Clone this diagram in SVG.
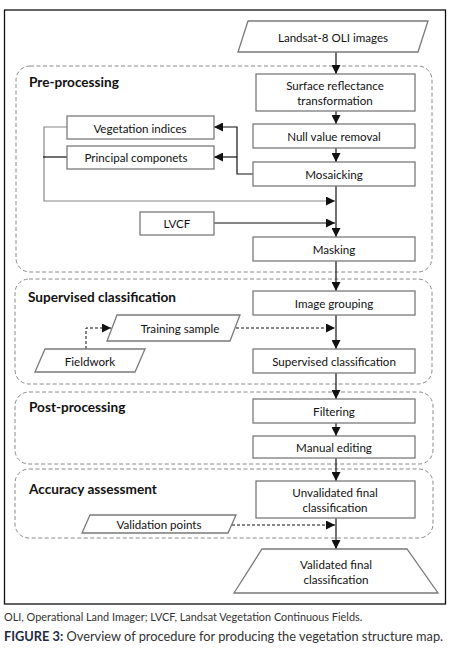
<svg xmlns="http://www.w3.org/2000/svg" width="453" height="650" viewBox="0 0 453 650">
<style>
text{font-family:Lato,"Liberation Sans",sans-serif;fill:#111}
.t{font-size:11.6px;text-anchor:middle;dominant-baseline:central}
.h{font-size:13.6px;font-weight:bold;dominant-baseline:central}
.box{fill:#fff;stroke:#7a7a7a;stroke-width:1.3}
.grp{fill:none;stroke:#8a8a8a;stroke-width:1;stroke-dasharray:4,2.5}
.c{fill:none;stroke:#111;stroke-width:1.2}
.g{fill:none;stroke:#888;stroke-width:1.2}
.d{fill:none;stroke:#111;stroke-width:1;stroke-dasharray:3,2}
.cap{font-size:10.9px;fill:#333}
.fig{font-size:12.8px;fill:#333}
</style>
<defs>
<marker id="a" markerUnits="userSpaceOnUse" markerWidth="9" markerHeight="9" viewBox="0 0 9 9" refX="9" refY="4.5" orient="auto">
<path d="M0,0L9,4.5L0,9Z" fill="#111"/>
</marker>
</defs>
<rect x="4.5" y="10" width="441" height="594" fill="#fff" stroke="#111" stroke-width="1.3"/>
<g id="groups">
<rect id="g-pre" class="grp" x="16" y="66" width="416" height="206" rx="14"/>
<rect id="g-sup" class="grp" x="15" y="279" width="417" height="105" rx="14"/>
<rect id="g-post" class="grp" x="15" y="392" width="418" height="72" rx="14"/>
<rect id="g-acc" class="grp" x="15" y="469" width="418" height="69" rx="14"/>
<text class="h" x="29" y="82">Pre-processing</text>
<text class="h" x="28" y="297">Supervised classification</text>
<text class="h" x="29" y="407">Post-processing</text>
<text class="h" x="29" y="489">Accuracy assessment</text>
</g>
<g id="connectors">
<path class="c" d="M336,52V74" marker-end="url(#a)"/>
<path class="c" d="M336,111V124" marker-end="url(#a)"/>
<path class="c" d="M336,148V162" marker-end="url(#a)"/>
<path class="c" d="M253,174H237V127H214" marker-end="url(#a)"/>
<path class="c" d="M237,157H214" marker-end="url(#a)"/>
<path class="g" d="M67,127H44V201H335" marker-end="url(#a)"/>
<path class="c" d="M67,157H43"/>
<path class="c" d="M336,186V237" marker-end="url(#a)"/>
<path class="c" d="M214,223H335" marker-end="url(#a)"/>
<path class="c" d="M336,261V291" marker-end="url(#a)"/>
<path class="c" d="M336,315V349" marker-end="url(#a)"/>
<path class="d" d="M236,328H335" marker-end="url(#a)"/>
<path class="d" d="M86,349V328H111" marker-end="url(#a)"/>
<path class="c" d="M336,373V399" marker-end="url(#a)"/>
<path class="c" d="M336,423V436" marker-end="url(#a)"/>
<path class="c" d="M336,458V481" marker-end="url(#a)"/>
<path class="d" d="M232,525H335" marker-end="url(#a)"/>
<path class="c" d="M336,518V549" marker-end="url(#a)"/>
</g>
<g id="n-landsat"><path class="box" d="M248,21H428L418,52H238Z"/><text class="t" x="333" y="37">Landsat-8 OLI images</text></g>
<g id="n-sr"><rect class="box" x="256" y="74" width="159" height="37"/><text class="t" x="335" y="85">Surface reflectance</text><text class="t" x="335" y="100">transformation</text></g>
<g id="n-null"><rect class="box" x="253" y="124" width="162" height="24"/><text class="t" x="334" y="136">Null value removal</text></g>
<g id="n-mosaic"><rect class="box" x="253" y="162" width="162" height="24"/><text class="t" x="334" y="174">Mosaicking</text></g>
<g id="n-vi"><rect class="box" x="67" y="116" width="147" height="23"/><text class="t" x="140" y="128">Vegetation indices</text></g>
<g id="n-pc"><rect class="box" x="67" y="146" width="147" height="23"/><text class="t" x="136" y="157">Principal componets</text></g>
<g id="n-lvcf"><rect class="box" x="140" y="212" width="74" height="23"/><text class="t" x="177" y="223">LVCF</text></g>
<g id="n-mask"><rect class="box" x="253" y="237" width="162" height="24"/><text class="t" x="334" y="249">Masking</text></g>
<g id="n-ig"><rect class="box" x="253" y="291" width="162" height="24"/><text class="t" x="334" y="303">Image grouping</text></g>
<g id="n-ts"><path class="box" d="M117,315H240L230,341H107Z"/><text class="t" x="180" y="328">Training sample</text></g>
<g id="n-fw"><path class="box" d="M45,349H145L135,372H35Z"/><text class="t" x="90" y="361">Fieldwork</text></g>
<g id="n-sc"><rect class="box" x="253" y="349" width="162" height="24"/><text class="t" x="334" y="361">Supervised classification</text></g>
<g id="n-filt"><rect class="box" x="253" y="399" width="162" height="24"/><text class="t" x="334" y="411">Filtering</text></g>
<g id="n-me"><rect class="box" x="253" y="436" width="162" height="22"/><text class="t" x="334" y="447">Manual editing</text></g>
<g id="n-uv"><rect class="box" x="256" y="481" width="159" height="37"/><text class="t" x="335" y="492">Unvalidated final</text><text class="t" x="335" y="507">classification</text></g>
<g id="n-vp"><path class="box" d="M90,515H236L228,533H82Z"/><text class="t" x="159" y="524">Validation points</text></g>
<g id="n-vf"><path class="box" d="M262,549H407L438,593H234Z"/><text class="t" x="336" y="564">Validated final</text><text class="t" x="336" y="579">classification</text></g>
<text class="cap" x="4" y="621">OLI, Operational Land Imager; LVCF, Landsat Vegetation Continuous Fields.</text>
<text class="fig" x="4" y="641"><tspan font-weight="bold" fill="#1f2a44">FIGURE 3:</tspan> Overview of procedure for producing the vegetation structure map.</text>
</svg>
